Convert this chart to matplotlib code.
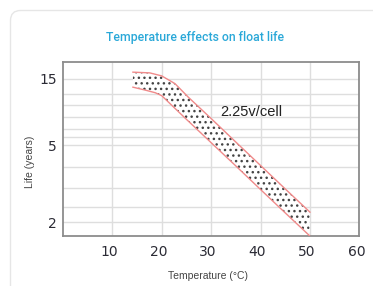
import matplotlib
matplotlib.use("Agg")
import matplotlib.pyplot as plt
import numpy as np
from matplotlib.patches import PathPatch
from matplotlib.path import Path
from matplotlib.transforms import ScaledTranslation, IdentityTransform

# data
temp_upper = [14.2, 17.6, 20.0, 22.7, 25.4, 30, 35, 40, 45, 50]
life_upper = [16.8, 16.6, 15.8, 13.9, 11.1, 7.8, 5.28, 3.93, 2.97, 2.25]
temp_lower = [14.2, 16.6, 18.7, 20.0, 25, 30, 35, 40, 45, 49.9]
life_lower = [13.1, 12.5, 11.95, 11.4, 7.7, 5.23, 3.91, 2.95, 2.23, 1.70]

x_ticks = [10, 20, 30, 40, 50, 60]
y_ticks = [2, 5, 15]
y_grid = [2.4, 3, 3.85, 5.7, 6.6, 8, 9.7, 11.75]

# the y axis of the original is log-like but not evenly spaced
knot_log = np.log10([1, 2, 5, 15, 100])
knot_pos = [-58.0, 0.0, 76.7, 143.0, 257.5]


def forward(v):
    v = np.clip(np.asarray(v, dtype=float), 1e-3, None)
    return np.interp(np.log10(v), knot_log, knot_pos)


def inverse(p):
    return 10 ** np.interp(p, knot_pos, knot_log)


fig = plt.figure(figsize=(3.73, 2.86), dpi=100)
fig.patch.set_facecolor("white")

# card outline: only left and top edges are in view (pixel units)
card_path = Path([(10.5, -10), (10.5, 265.5), (10.5, 275.5), (20.5, 275.5), (400, 275.5)],
                 [Path.MOVETO, Path.LINETO, Path.CURVE3, Path.CURVE3, Path.LINETO])
fig.patches.append(PathPatch(card_path, transform=IdentityTransform(),
                             facecolor="none", edgecolor="#e6e6e6",
                             linewidth=1.0, zorder=-5))

fig.text(195 / 373, 1 - 37.7 / 286, "Temperature effects on float life",
         ha="center", va="center", color="#2aa8d8", fontsize=8.8,
         family="Roboto", fontweight="medium")

ax = fig.add_axes([62.7 / 373, 50.3 / 286, 296.7 / 373, 173.4 / 286])
ax.set_zorder(1)
ax.set_yscale("function", functions=(forward, inverse))
ax.set_xlim(0, 60)
ax.set_ylim(1.698, 19.78)

ax.set_xticks(x_ticks)
ax.set_yticks(y_ticks)
ax.set_yticklabels([str(v) for v in y_ticks])
ax.set_yticks(y_grid, minor=True)
ax.yaxis.set_minor_formatter(plt.NullFormatter())
ax.tick_params(which="both", length=0)
ax.tick_params(axis="x", pad=7, labelsize=10, labelcolor="#2b2b35")
ax.tick_params(axis="y", pad=4, labelsize=10, labelcolor="#2b2b35")
for lab in ax.get_xticklabels():
    lab.set_transform(lab.get_transform() + ScaledTranslation(-3 / 100, 0, fig.dpi_scale_trans))

ax.grid(True, which="both", color="#dedede", linewidth=1.0)
ax.set_axisbelow(True)
for s in ax.spines.values():
    s.set_color("#8c8c8c")
    s.set_linewidth(1.3)

# shaded band
band_x = np.concatenate([temp_upper, temp_lower[::-1]])
band_y = np.concatenate([life_upper, life_lower[::-1]])
ax.fill(band_x, band_y, facecolor="white", edgecolor="#444444",
        hatch="...", linewidth=0, zorder=2)
ax.plot(temp_upper, life_upper, color="#f08a8a", linewidth=1.0, zorder=3)
ax.plot(temp_lower, life_lower, color="#f08a8a", linewidth=1.0, zorder=3)

ax.text(31.95, 8.72, "2.25v/cell", ha="left", va="center",
        fontsize=10.5, color="#222222", family="Liberation Sans", zorder=4)

ax.set_xlabel("Temperature (°C)", fontsize=7.5, color="#444444",
              family="Liberation Sans")
ax.xaxis.set_label_coords(0.491, -0.202)
ax.set_ylabel("Life (years)", fontsize=7.5, color="#444444",
              family="Liberation Sans")
ax.yaxis.set_label_coords(-0.093, 0.425)

fig.savefig("out.png", dpi=100)
